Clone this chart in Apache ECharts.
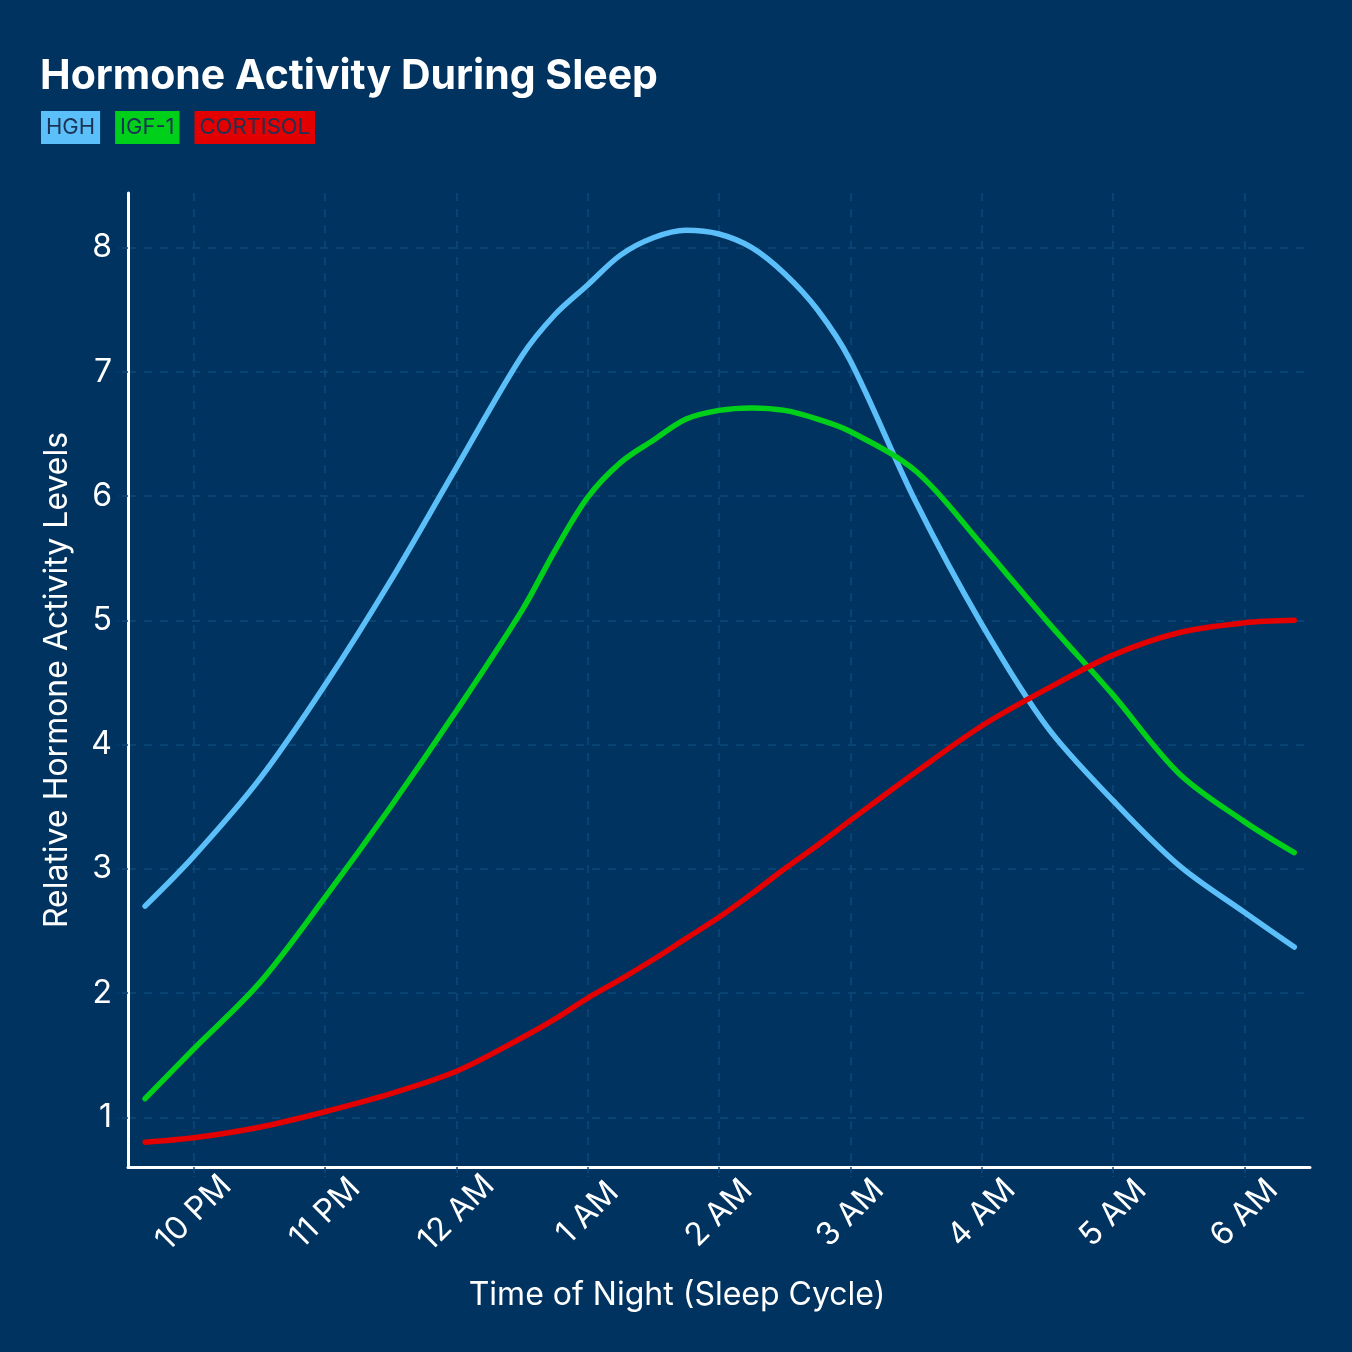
<!DOCTYPE html>
<html>
<head>
<meta charset="utf-8">
<script src="https://cdn.jsdelivr.net/npm/echarts@6/dist/echarts.min.js"></script>
<style>
html,body{margin:0;padding:0;background:#00335f;}
#chart{width:1352px;height:1352px;}
</style>
</head>
<body>
<div id="chart"></div>
<script>
// Hours (22 = 10 PM, 24 = 12 AM, 30 = 6 AM)
const times    = [21.63, 22, 22.5, 23, 23.5, 24, 24.5, 24.75, 25, 25.25, 25.5, 25.75, 26, 26.25, 26.5, 26.75, 27, 27.5, 28, 28.5, 29, 29.5, 30, 30.38];
const hgh      = [2.70, 3.10, 3.72, 4.48, 5.32, 6.23, 7.13, 7.46, 7.70, 7.94, 8.08, 8.14, 8.11, 8.00, 7.79, 7.50, 7.09, 5.95, 4.97, 4.14, 3.55, 3.03, 2.65, 2.37];
const igf1     = [1.15, 1.55, 2.08, 2.77, 3.50, 4.27, 5.08, 5.56, 5.99, 6.27, 6.45, 6.62, 6.69, 6.71, 6.69, 6.62, 6.52, 6.20, 5.61, 4.99, 4.40, 3.77, 3.38, 3.13];
const cortisol = [0.80, 0.835, 0.92, 1.045, 1.19, 1.37, 1.64, 1.79, 1.96, 2.11, 2.27, 2.44, 2.61, 2.80, 3.00, 3.19, 3.39, 3.78, 4.15, 4.45, 4.72, 4.90, 4.98, 5.00];
const xTicks = [22, 23, 24, 25, 26, 27, 28, 29, 30];
const yTicks = [1, 2, 3, 4, 5, 6, 7, 8];
const seriesNames = ['HGH', 'IGF-1', 'CORTISOL'];
const colors = ['#5bbff9', '#00d01a', '#e30000'];

const FONT = 'Inter, "Noto Sans", sans-serif';
const GRID = '#0b4a7c';
function pairs(vals){ return times.map((t,i)=>[t, vals[i]]); }
function hourLabel(v){
  const h = ((Math.round(v) % 24) + 24) % 24;
  const hr = h % 12 === 0 ? 12 : h % 12;
  return hr + (h < 12 ? ' AM' : ' PM');
}

const chart = echarts.init(document.getElementById('chart'), null, {renderer:'canvas'});
chart.setOption({
  backgroundColor: '#00335f',
  animation: false,
  title: {
    text: 'Hormone Activity During Sleep',
    left: 35, top: 51,
    textStyle: {color:'#ffffff', fontSize: 41, fontWeight: 'bold', fontFamily: FONT}
  },
  legend: {
    left: 31, top: 106,
    itemWidth: 0, itemHeight: 0, itemGap: 10,
    icon: 'rect',
    selectedMode: false,
    data: seriesNames.map((n,i)=>({
      name: n,
      textStyle: {
        color: '#1b3356', fontSize: 22, fontFamily: FONT,
        backgroundColor: colors[i], padding: [6, 5, 5, 5]
      }
    }))
  },
  grid: {left: 128, right: 42, top: 193, bottom: 185},
  xAxis: {
    type: 'value', min: 21.5, max: 30.5,
    name: 'Time of Night (Sleep Cycle)', nameLocation: 'middle', nameGap: 112,
    nameTextStyle: {color:'#ffffff', fontSize: 32, fontFamily: FONT, padding: [0, 84, 0, 0]},
    axisLine: {show: true, onZero: false, lineStyle: {color:'#ffffff', width: 3}},
    axisTick: {show: true, length: 10, customValues: xTicks, lineStyle: {color: GRID, width: 1.5, type: 'dashed'}},
    axisLabel: {customValues: xTicks, formatter: hourLabel, rotate: 45, margin: 46,
      align: 'center', verticalAlign: 'middle',
      color:'#ffffff', fontSize: 32, fontFamily: FONT},
    splitLine: {show: true, lineStyle: {color: GRID, width: 1.5, type: [8, 8]}}
  },
  yAxis: {
    type: 'value', min: 0.6, max: 8.44,
    name: 'Relative Hormone Activity Levels', nameLocation: 'middle', nameGap: 55,
    nameTextStyle: {color:'#ffffff', fontSize: 32, fontFamily: FONT},
    axisLine: {show: true, onZero: false, lineStyle: {color:'#ffffff', width: 3}},
    axisTick: {show: true, length: 10, customValues: yTicks, lineStyle: {color: GRID, width: 1.5, type: 'dashed'}},
    axisLabel: {customValues: yTicks, margin: 16, color:'#ffffff', fontSize: 32, fontFamily: FONT},
    splitLine: {show: true, lineStyle: {color: GRID, width: 1.5, type: [8, 8]}}
  },
  series: [hgh, igf1, cortisol].map((vals, i)=>({
    name: seriesNames[i], type: 'line', data: pairs(vals),
    smooth: 0.33, showSymbol: false, symbol: 'none',
    lineStyle: {color: colors[i], width: 5.5, cap: 'round'},
    itemStyle: {color: colors[i]}
  }))
});
</script>
</body>
</html>
